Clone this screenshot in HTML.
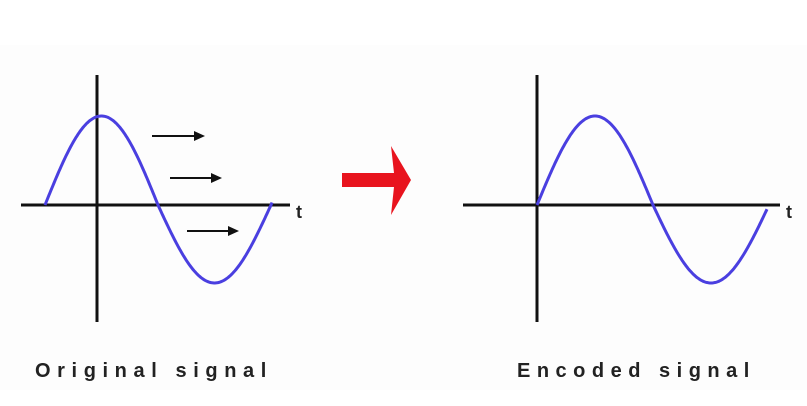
<!DOCTYPE html>
<html><head><meta charset="utf-8"><style>
html,body{margin:0;padding:0;background:#fff;}
svg{display:block;}
text{font-family:"Liberation Sans",sans-serif;font-weight:bold;fill:#222;}
</style></head><body>
<svg id="c" width="807" height="406" viewBox="0 0 807 406">
<rect width="807" height="406" fill="#fff"/>
<rect x="0" y="45" width="807" height="345" fill="#fdfdfd"/>
<g id="left">
  <line x1="21" y1="205" x2="290" y2="205" stroke="#111" stroke-width="3"/>
  <line x1="97" y1="75" x2="97" y2="322" stroke="#111" stroke-width="3"/>
  <text x="296" y="218" font-size="18">t</text>
  <g id="shift-arrows"></g>
  <text x="35" y="377" font-size="20" letter-spacing="6.6">Original signal</text>
</g>
<g id="right">
  <line x1="463" y1="205" x2="780" y2="205" stroke="#111" stroke-width="3"/>
  <line x1="537" y1="75" x2="537" y2="322" stroke="#111" stroke-width="3"/>
  <text x="786" y="218" font-size="18">t</text>
  <text x="517" y="377" font-size="20" letter-spacing="6.5">Encoded signal</text>
</g>
<path d="M342 173 L394 173 L391 146 L411 180 L391 215 L394 187 L342 187 Z" fill="#e8141e"/>
</svg>
<script>
// signal parameters
const waveNames = ["original", "encoded"];
const waveStartX = [45, 537];
const waveHalfPeriod = [113, 116];
const waveAmplitudeUp = [89, 89];
const waveAmplitudeDown = [78, 78];
const waveEndX = [272, 767];
const axisY = [205, 205];
const arrowStartX = [152, 170, 187];
const arrowEndX = [205, 222, 239];
const arrowY = [136, 178, 231];

const svg = document.getElementById('c');
const NS = 'http://www.w3.org/2000/svg';
for (let i = 0; i < waveNames.length; i++) {
  let d = '';
  for (let x = waveStartX[i]; x <= waveEndX[i]; x += 1) {
    const s = Math.sin(Math.PI * (x - waveStartX[i]) / waveHalfPeriod[i]);
    const y = axisY[i] - s * (s >= 0 ? waveAmplitudeUp[i] : waveAmplitudeDown[i]);
    d += (d ? 'L' : 'M') + x.toFixed(1) + ' ' + y.toFixed(1);
  }
  const p = document.createElementNS(NS, 'path');
  p.setAttribute('d', d);
  p.setAttribute('fill', 'none');
  p.setAttribute('stroke', '#4a3fe0');
  p.setAttribute('stroke-width', '3');
  
  
  document.getElementById(i === 0 ? 'left' : 'right').appendChild(p);
}
const ag = document.getElementById('shift-arrows');
for (let i = 0; i < arrowY.length; i++) {
  const l = document.createElementNS(NS, 'line');
  l.setAttribute('x1', arrowStartX[i]);
  l.setAttribute('x2', arrowEndX[i] - 8);
  l.setAttribute('y1', arrowY[i]);
  l.setAttribute('y2', arrowY[i]);
  l.setAttribute('stroke', '#111');
  l.setAttribute('stroke-width', '2');
  
  
  ag.appendChild(l);
  const h = document.createElementNS(NS, 'path');
  const e = arrowEndX[i], y = arrowY[i];
  h.setAttribute('d', `M${e} ${y} L${e-11} ${y-5} L${e-11} ${y+5} Z`);
  h.setAttribute('fill', '#111');
  
  
  ag.appendChild(h);
}
</script>
</body></html>
